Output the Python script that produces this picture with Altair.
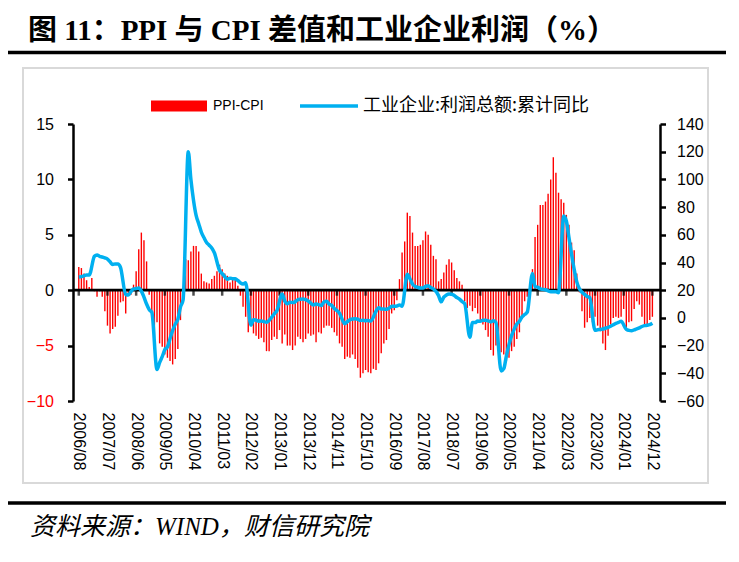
import altair as alt
import pandas as pd

# ---------------- data ----------------
start_year, start_month = 2006, 8

# PPI minus CPI (percentage points), monthly 2006/08 - 2024/12
ppi_cpi = [
    2.1, 2.0, 1.5, 0.9, 0.3,                                          # 2006 Aug-Dec
    1.1, -0.1, -0.6, -0.1, -0.6, -1.9, -3.2, -3.9, -3.5, -3.3, -2.3, -1.1,  # 2007
    -1.0, -2.1, -0.3, -0.4, 0.5, 1.7, 3.7, 5.2, 4.5, 2.6, -0.4, -2.3,     # 2008
    -4.3, -2.9, -4.8, -5.1, -5.8, -6.1, -6.4, -6.7, -6.2, -5.3, -2.7, -0.2,  # 2009
    2.8, 2.7, 3.5, 4.0, 4.0, 3.5, 1.5, 0.8, 0.7, 0.6, 1.0, 1.3,          # 2010
    1.7, 2.3, 1.9, 1.5, 1.3, 0.7, 1.0, 1.1, 0.4, -0.5, -1.5, -2.4,       # 2011
    -3.8, -3.2, -3.9, -4.1, -4.4, -4.3, -4.7, -5.5, -5.5, -4.5, -4.2, -4.4,  # 2012
    -3.6, -4.8, -4.0, -5.0, -5.0, -5.4, -5.0, -4.2, -4.4, -4.7, -4.4, -3.9,  # 2013
    -4.1, -4.0, -4.7, -3.8, -3.9, -3.4, -3.2, -3.2, -3.4, -3.8, -4.1, -4.8,  # 2014
    -5.1, -6.2, -6.0, -6.1, -5.8, -6.2, -7.0, -7.9, -7.5, -7.2, -7.4, -7.5,  # 2015
    -7.1, -7.2, -6.6, -5.7, -4.8, -4.5, -3.5, -2.1, -1.8, -0.9, 1.0, 3.4,    # 2016
    4.4, 7.0, 6.7, 5.2, 4.0, 4.0, 4.1, 4.5, 5.3, 5.0, 4.1, 3.1,          # 2017
    2.8, 0.8, 1.0, 1.6, 2.3, 2.8, 2.5, 1.8, 1.1, 0.8, 0.5, -1.0,         # 2018
    -1.6, -1.4, -1.9, -1.6, -2.1, -2.7, -3.1, -3.6, -4.2, -5.4, -5.9, -5.0,  # 2019
    -5.3, -5.6, -5.8, -6.4, -6.1, -5.5, -5.1, -4.4, -3.8, -2.6, -1.0, -0.6,  # 2020
    0.6, 1.9, 4.8, 5.9, 7.7, 7.7, 8.0, 8.7, 10.0, 12.0, 10.6, 8.8,       # 2021
    8.2, 7.9, 6.8, 5.9, 4.3, 3.6, 1.5, -0.2, -1.9, -3.4, -2.9, -2.5,     # 2022
    -2.9, -2.4, -3.2, -3.7, -4.8, -5.4, -4.1, -3.1, -2.5, -2.4, -2.5, -2.4,  # 2023
    -1.7, -3.4, -2.9, -2.8, -1.7, -1.0, -1.3, -2.4, -3.2, -3.2, -2.7, -2.4,  # 2024
]

# Industrial enterprises: total profit, cumulative YoY (%), None = no January release
profit = [
    29.5, 29.8, 30.4, 31.0, 31.0,                                              # 2006
    None, 44.5, 45.5, 44.5, 44.0, 43.3, 42.5, 40.5, 38.5, 39.0, 39.0, 36.5,    # 2007
    None, 17.0, 16.5, 19.0, 20.9, 21.2, 21.5, 19.4, 15.0, 10.0, 6.0, 4.0,      # 2008
    None, -37.3, -32.3, -28.0, -22.9, -21.0, -15.0, -9.1, -4.5, -1.0, 7.8, 13.0,  # 2009
    None, 120.0, 100.0, 85.0, 74.0, 68.0, 62.0, 58.0, 54.5, 52.5, 50.5, 47.0,  # 2010
    None, 34.3, 32.0, 29.7, 27.9, 28.7, 28.3, 28.2, 27.0, 25.3, 24.4, 25.4,    # 2011
    None, -5.2, -1.3, -1.6, -2.4, -2.2, -2.7, -3.1, -1.8, 0.5, 3.0, 5.3,       # 2012
    None, 17.2, 12.1, 10.2, 11.3, 11.1, 11.6, 13.1, 13.5, 13.7, 13.2, 12.2,    # 2013
    None, 9.4, 10.1, 9.6, 8.9, 11.4, 12.0, 10.0, 9.0, 6.7, 5.3, 3.3,          # 2014
    None, -4.2, -2.7, -1.3, -0.8, -0.7, -1.0, -1.9, -1.7, -2.0, -1.9, -2.3,    # 2015
    None, 4.8, 7.4, 6.5, 6.4, 6.2, 6.9, 8.4, 8.4, 8.6, 9.4, 8.5,              # 2016
    None, 31.5, 28.3, 24.4, 22.7, 22.0, 21.6, 21.6, 22.8, 23.3, 21.9, 21.0,    # 2017
    None, 16.1, 11.6, 15.0, 16.5, 17.2, 17.1, 16.2, 14.7, 13.6, 11.8, 10.3,    # 2018
    None, -14.0, -3.3, -3.4, -2.3, -2.4, -1.7, -1.7, -2.1, -2.9, -2.1, -3.3,   # 2019
    None, -38.3, -36.7, -27.4, -19.3, -12.8, -8.1, -4.4, -2.4, 0.7, 2.4, 4.1,  # 2020
    None, 32.0, 22.6, 22.2, 21.0, 20.6, 20.3, 19.5, 18.8, 18.8, 18.9, 18.2,    # 2021
    None, 73.5, 70.0, 58.0, 46.0, 35.0, 26.0, 21.0, 18.5, 17.0, 15.5, 14.5,    # 2022
    None, -9.0, -8.5, -8.3, -8.0, -7.5, -6.8, -6.0, -5.0, -4.0, -3.2, -2.5,    # 2023
    None, -8.3, -9.0, -9.3, -8.6, -8.0, -7.2, -6.2, -5.6, -5.3, -4.8, -3.8,    # 2024
]

tick_labels = [
    "2006/08", "2007/07", "2008/06", "2009/05", "2010/04", "2011/03", "2012/02",
    "2013/01", "2013/12", "2014/11", "2015/10", "2016/09", "2017/08", "2018/07",
    "2019/06", "2020/05", "2021/04", "2022/03", "2023/02", "2024/01", "2024/12",
]

left_ticks = [-10, -5, 0, 5, 10, 15]
right_ticks = [-60, -40, -20, 0, 20, 40, 60, 80, 100, 120, 140]

title_text = "图 11：PPI 与 CPI 差值和工业企业利润（%）"
source_text = "资料来源：WIND，财信研究院"
bar_name = "PPI-CPI"
line_name = "工业企业:利润总额:累计同比"

# ---------------- tables ----------------
n = len(ppi_cpi)
months = []
yy, mm = start_year, start_month
for _ in range(n):
    months.append(f"{yy}/{mm:02d}")
    mm += 1
    if mm > 12:
        mm = 1
        yy += 1

df = pd.DataFrame({"idx": list(range(n)), "month": months,
                   "ppi_cpi": ppi_cpi, "profit": profit})
tick_idx = [months.index(t) for t in tick_labels]
ticks_df = pd.DataFrame({"idx": tick_idx, "zero": [0] * len(tick_idx)})
zero_df = pd.DataFrame({"zero": [0]})
one = pd.DataFrame({"a": [0]})

label_expr = ("[" + ",".join(f"'{t}'" for t in tick_labels) + "][indexof(["
              + ",".join(str(i) for i in tick_idx) + "], datum.value)]")

RED = "#FF0000"
BLUE = "#00B0F0"
AX_FONT = "Liberation Sans"
CJK = "Noto Sans CJK SC"

xscale = alt.Scale(domain=[-0.3, 221.0], nice=False, zero=False)
yl_scale = alt.Scale(domain=[-10, 15], nice=False, zero=False)
yr_scale = alt.Scale(domain=[-60, 140], nice=False, zero=False)

x_axis = alt.Axis(values=tick_idx, labelExpr=label_expr, title=None, grid=False,
                  domain=False, ticks=False, tickSize=0, labelAngle=90,
                  labelAlign="left", labelBaseline="middle", labelPadding=11,
                  labelFont=AX_FONT, labelFontSize=16, labelColor="black",
                  labelOverlap=False, labelFlush=False, labelBound=False)

yl_axis = alt.Axis(values=left_ticks, title=None, grid=False,
                   domainColor="black", domainWidth=2.5,
                   tickColor="black", tickWidth=2.5, tickSize=5.5,
                   labelPadding=14, labelFont=AX_FONT, labelFontSize=16,
                   labelColor={"condition": {"test": "datum.value < 0", "value": RED},
                               "value": "black"},
                   labelFlush=False, labelOverlap=False)

yr_axis = alt.Axis(orient="right", values=right_ticks, title=None, grid=False,
                   domainColor="black", domainWidth=2.5,
                   tickColor="black", tickWidth=2.5, tickSize=5.5,
                   labelPadding=11, labelFont=AX_FONT, labelFontSize=16,
                   labelColor="black", labelFlush=False, labelOverlap=False)

bars = alt.Chart(df).mark_bar(color=RED, size=1.4).encode(
    x=alt.X("idx:Q", scale=xscale, axis=x_axis),
    y=alt.Y("ppi_cpi:Q", scale=yl_scale, axis=yl_axis),
)

zero_rule = alt.Chart(zero_df).mark_rule(color="black", strokeWidth=2.8).encode(
    y=alt.Y("zero:Q", scale=yl_scale, axis=yl_axis),
)

x_ticks = alt.Chart(ticks_df).mark_tick(
    orient="vertical", size=5.5, thickness=2.5, color="black", yOffset=2.75
).encode(
    x=alt.X("idx:Q", scale=xscale, axis=x_axis),
    y=alt.Y("zero:Q", scale=yl_scale, axis=yl_axis),
)

left_layer = alt.layer(bars, zero_rule, x_ticks)

line = alt.Chart(df).transform_filter("isValid(datum.profit)").mark_line(
    color=BLUE, strokeWidth=3.5, interpolate="monotone"
).encode(
    x=alt.X("idx:Q", scale=xscale, axis=x_axis),
    y=alt.Y("profit:Q", scale=yr_scale, axis=yr_axis),
)

# ---------------- decorations (pixel positions relative to plot origin) ----------------
deco = alt.Chart(one)

border = deco.mark_rect(color="white", fillOpacity=0, stroke="#D9D9D9", strokeWidth=2).encode(
    x=alt.value(-50), x2=alt.value(635), y=alt.value(-56), y2=alt.value(359))

title = deco.mark_text(text=title_text, font=f"Liberation Serif, {CJK}", fontSize=29,
                       fontWeight="bold", align="left", baseline="middle", color="black").encode(
    x=alt.value(-45), y=alt.value(-93.5))

top_line = deco.mark_rule(color="black", strokeWidth=3.5).encode(
    x=alt.value(-65), x2=alt.value(653), y=alt.value(-71.5))

bottom_line = deco.mark_rule(color="black", strokeWidth=3.5).encode(
    x=alt.value(-65), x2=alt.value(653), y=alt.value(379))

source = deco.mark_text(text=source_text, font=f"Liberation Serif, {CJK}", fontSize=25,
                        fontStyle="italic", align="left", baseline="middle", color="black").encode(
    x=alt.value(-43), y=alt.value(403))

leg_rect = deco.mark_rect(color=RED).encode(
    x=alt.value(78), x2=alt.value(134), y=alt.value(-23.5), y2=alt.value(-12.5))

leg_text1 = deco.mark_text(text=bar_name, font=AX_FONT, fontSize=14, align="left",
                           baseline="middle", color="black").encode(
    x=alt.value(140), y=alt.value(-18))

leg_line = deco.mark_rule(color=BLUE, strokeWidth=3.5).encode(
    x=alt.value(227), x2=alt.value(285), y=alt.value(-18))

leg_text2 = deco.mark_text(text=line_name, font=CJK, fontSize=18, align="left",
                           baseline="middle", color="black").encode(
    x=alt.value(290), y=alt.value(-18))

chart = alt.layer(
    border, title, top_line, bottom_line, source,
    leg_rect, leg_text1, leg_line, leg_text2,
    left_layer, line,
).resolve_scale(y="independent").properties(
    width=587, height=277,
    autosize=alt.AutoSizeParams(type="none"),
    padding={"left": 65, "top": 116, "right": 71, "bottom": 153},
    background="white",
).configure_view(stroke=None)

chart.save("out.html", embed_options={"renderer": "svg", "actions": False})
